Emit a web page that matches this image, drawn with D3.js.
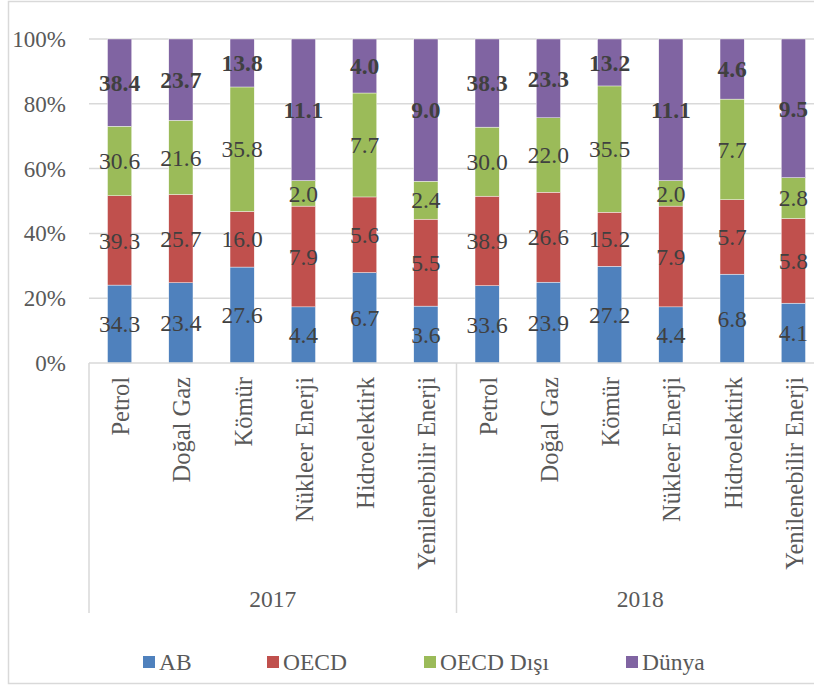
<!DOCTYPE html>
<html>
<head>
<meta charset="utf-8">
<script src="https://cdn.jsdelivr.net/npm/d3@7"></script>
<style>
  body { margin: 0; background: #fff; }
  text { font-family: "Liberation Serif", "Times New Roman", serif; }
</style>
</head>
<body>
<div id="chart"></div>
<script>
// data
const years = ["2017", "2018"]
const sources = ["Petrol", "Doğal Gaz", "Kömür", "Nükleer Enerji", "Hidroelektirk", "Yenilenebilir Enerji"]
const seriesNames = ["AB", "OECD", "OECD Dışı", "Dünya"]
const colors = ["#4F81BD", "#C0504D", "#9BBB59", "#8064A2"]

const ab      = [34.3, 23.4, 27.6, 4.4, 6.7, 3.6,  33.6, 23.9, 27.2, 4.4, 6.8, 4.1]
const oecd    = [39.3, 25.7, 16.0, 7.9, 5.6, 5.5,  38.9, 26.6, 15.2, 7.9, 5.7, 5.8]
const nonOecd = [30.6, 21.6, 35.8, 2.0, 7.7, 2.4,  30.0, 22.0, 35.5, 2.0, 7.7, 2.8]
const world   = [38.4, 23.7, 13.8, 11.1, 4.0, 9.0, 38.3, 23.3, 13.2, 11.1, 4.6, 9.5]

const yTicks = [0, 0.2, 0.4, 0.6, 0.8, 1]

// table for the stack
const rows = []
years.forEach((yr, yi) => {
    sources.forEach((s, si) => {
        const i = yi * sources.length + si
        rows.push({ key: yr + "|" + s, year: yr, source: s,
            "AB": ab[i], "OECD": oecd[i], "OECD Dışı": nonOecd[i], "Dünya": world[i] })
    })
})

const W = 814, H = 685
const margin = { top: 39, left: 89, right: -10, bottom: 322 }
const width = W - margin.left - margin.right
const height = H - margin.top - margin.bottom

const svg = d3.select("#chart").append("svg")
    .attr("width", W).attr("height", H)

// outer frame
svg.append("rect")
    .attr("x", 8.5).attr("y", 1.5)
    .attr("width", W + 20).attr("height", H - 3)
    .attr("fill", "none").attr("stroke", "#d9d9d9").attr("stroke-width", 1.5)

const g = svg.append("g").attr("transform", `translate(${margin.left},${margin.top})`)

const x = d3.scaleBand()
    .domain(rows.map(d => d.key))
    .range([0, width])
    .paddingInner(0.605).paddingOuter(0.3025)

const y = d3.scaleLinear().domain([0, 1]).range([height, 0])

// gridlines
g.selectAll(".grid").data(yTicks.slice(1)).enter().append("line")
    .attr("x1", 0).attr("x2", width)
    .attr("y1", d => y(d)).attr("y2", d => y(d))
    .attr("stroke", "#d9d9d9").attr("stroke-width", 1.5)

// y tick labels
g.selectAll(".ytick").data(yTicks).enter().append("text")
    .attr("x", -23).attr("y", d => y(d))
    .attr("dy", "0.35em")
    .attr("text-anchor", "end")
    .attr("font-size", 23).attr("fill", "#595959")
    .text(d => d3.format(".0%")(d))

// stacked 100%
const stack = d3.stack().keys(seriesNames).offset(d3.stackOffsetExpand)
const layers = stack(rows)

const layer = g.selectAll(".layer").data(layers).enter().append("g")
    .attr("fill", (d, i) => colors[i])

layer.selectAll("rect").data(d => d).enter().append("rect")
    .attr("x", d => x(d.data.key))
    .attr("width", x.bandwidth())
    .attr("y", d => y(d[1]))
    .attr("height", d => y(d[0]) - y(d[1]))
    .attr("stroke", "#ffffff").attr("stroke-width", 0.4)

// value labels
layers.forEach((L, li) => {
    g.selectAll(".lab" + li).data(L).enter().append("text")
        .attr("x", d => x(d.data.key) + x.bandwidth() / 2)
        .attr("y", d => y((d[0] + d[1]) / 2))
        .attr("dy", "0.35em")
        .attr("text-anchor", "middle")
        .attr("font-size", 23.5)
        .attr("font-weight", li === 3 ? "bold" : "normal")
        .attr("fill", "#404040")
        .text(d => d.data[L.key].toFixed(1))
})

// category axis
g.append("line")
    .attr("x1", 0).attr("x2", width)
    .attr("y1", height).attr("y2", height)
    .attr("stroke", "#d9d9d9").attr("stroke-width", 1.5)

const groupW = x.step() * sources.length
g.selectAll(".sep").data([0, 1, 2]).enter().append("line")
    .attr("x1", d => d * groupW).attr("x2", d => d * groupW)
    .attr("y1", height).attr("y2", height + 250)
    .attr("stroke", "#d9d9d9").attr("stroke-width", 1.5)

g.selectAll(".cat").data(rows).enter().append("text")
    .attr("transform", d => `translate(${x(d.key) + x.bandwidth() / 2 + 1},${height + 14}) rotate(-90)`)
    .attr("text-anchor", "end")
    .attr("dy", "0.35em")
    .attr("font-size", 24.5).attr("fill", "#595959")
    .text(d => d.source)

g.selectAll(".year").data(years).enter().append("text")
    .attr("x", (d, i) => i * groupW + groupW / 2)
    .attr("y", height + 244)
    .attr("text-anchor", "middle")
    .attr("font-size", 23.5).attr("fill", "#595959")
    .text(d => d)

// legend
const legendX = [143, 267, 424, 626]
const leg = svg.selectAll(".leg").data(seriesNames).enter().append("g")
    .attr("transform", (d, i) => `translate(${legendX[i]},656)`)
leg.append("rect").attr("width", 12).attr("height", 12).attr("fill", (d, i) => colors[i])
leg.append("text")
    .attr("x", 16).attr("y", 6).attr("dy", "0.35em")
    .attr("font-size", 23.5).attr("fill", "#595959")
    .text(d => d)
</script>
</body>
</html>
